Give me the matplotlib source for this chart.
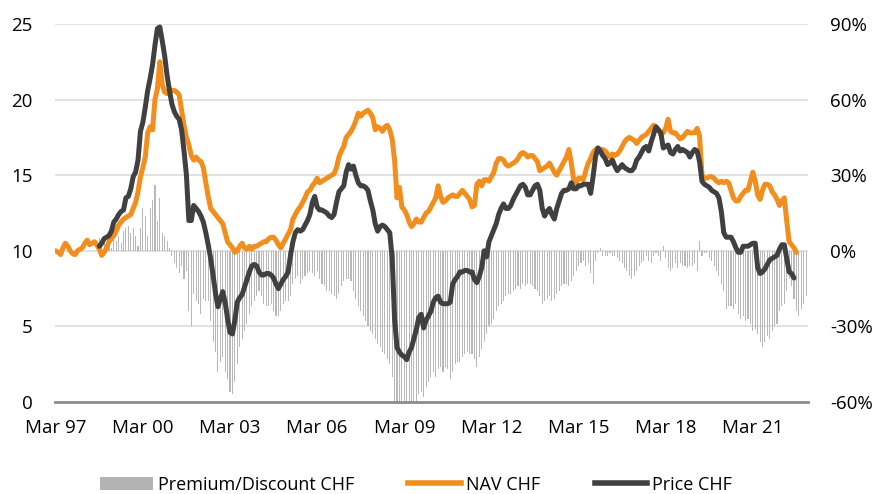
import numpy as np
import matplotlib
matplotlib.use("Agg")
import matplotlib.pyplot as plt
from matplotlib.patches import Patch
from matplotlib.lines import Line2D

plt.rcParams['font.family'] = ['Open Sans', 'DejaVu Sans']

# monthly data, month 0 = Mar 1997
nav_chf = [
    10.0, 9.9, 9.75, 10.2, 10.5, 10.3, 10.0, 9.8, 9.75, 10.0, 10.1, 10.2,
    10.5, 10.7, 10.4, 10.5, 10.6, 10.4, 10.1, 9.7, 9.9, 10.2, 10.6, 10.8,
    11.0, 11.3, 11.7, 11.9, 12.1, 12.2, 12.3, 12.4, 12.8, 13.2, 13.9, 14.9,
    15.5, 16.2, 17.8, 18.2, 18.0, 20.0, 20.7, 22.5, 21.0, 20.5, 20.4, 20.7,
    20.6, 20.6, 20.5, 20.3, 19.3, 18.3, 17.5, 17.0, 16.3, 16.0, 16.2, 16.0,
    15.9, 15.5, 14.5, 13.6, 12.8, 12.6, 12.4, 12.2, 12.0, 11.8, 11.2, 10.6,
    10.4, 10.2, 9.9, 10.0, 10.3, 10.5, 10.2, 10.1, 10.3, 10.1, 10.3, 10.3,
    10.4, 10.5, 10.6, 10.6, 10.8, 10.9, 10.9, 10.7, 10.4, 10.2, 10.5, 10.8,
    11.1, 11.4, 12.1, 12.4, 12.7, 12.9, 13.2, 13.5, 13.9, 14.0, 14.3, 14.5,
    14.8, 14.5, 14.6, 14.7, 14.8, 14.9, 15.0, 15.1, 15.5, 16.2, 16.6, 16.9,
    17.5, 17.7, 17.9, 18.2, 18.6, 19.1, 18.9, 19.1, 19.2, 19.3, 19.1, 18.8,
    18.0, 18.2, 18.1, 17.9, 18.2, 18.3, 18.0, 17.4, 16.0, 13.5, 14.2, 12.9,
    12.7, 12.4, 11.9, 11.6, 11.8, 12.1, 11.9, 11.9, 12.2, 12.5, 12.6, 12.9,
    13.2, 13.5, 14.3, 13.6, 13.2, 13.3, 13.5, 13.6, 13.7, 13.6, 13.6, 13.8,
    14.0, 13.8, 13.6, 13.4, 12.9, 13.0, 14.4, 14.6, 14.3, 14.7, 14.7, 14.6,
    14.9, 15.2, 15.8, 16.1, 16.1, 16.0, 15.7, 15.6, 15.7, 15.8, 15.9, 16.1,
    16.4, 16.5, 16.4, 16.2, 16.3, 16.3, 16.1, 15.9, 15.3, 15.4, 15.5, 15.6,
    15.8, 15.5, 15.2, 15.0, 15.3, 15.6, 15.9, 16.2, 16.7, 15.8, 14.7, 14.5,
    14.8, 14.8, 14.7, 15.3, 15.8, 16.1, 16.5, 16.7, 16.8, 16.7, 16.7, 16.6,
    16.4, 16.2, 16.4, 16.3, 16.4, 16.6, 16.9, 17.2, 17.4, 17.5, 17.4, 17.3,
    17.1, 17.3, 17.5, 17.6, 17.7, 17.9, 18.1, 18.3, 18.2, 18.0, 17.7, 17.8,
    18.1, 18.7, 17.9, 17.8, 17.8, 17.6, 17.4, 17.5, 17.7, 17.9, 17.8, 17.8,
    17.8, 18.1, 17.6, 15.0, 14.8, 14.8, 14.9, 14.9, 14.8, 14.6, 14.5, 14.6,
    14.5, 14.6, 14.5, 14.0, 13.5, 13.3, 13.3, 13.6, 13.8, 14.0, 14.0, 14.6,
    15.2, 14.6, 13.7, 13.4, 14.0, 14.4, 14.4, 14.3, 13.9, 13.7, 13.4, 13.0,
    13.3, 13.5, 12.0, 10.6, 10.4, 10.2, 9.9,
]

# price starts in month 18 (Sep 1998)
price_start = 18
price_chf = [
    10.3, 10.5, 10.8, 10.9, 11.0, 11.3,
    11.9, 12.1, 12.4, 12.6, 12.7, 13.5, 13.6, 14.1, 14.9, 15.2, 16.0, 17.9,
    18.5, 19.5, 20.6, 21.4, 22.3, 23.6, 24.7, 24.8, 23.9, 22.9, 21.6, 20.6,
    19.7, 19.2, 18.9, 18.7, 18.0, 16.6, 15.0, 12.0, 12.0, 13.0, 12.8, 12.6,
    12.3, 11.9, 11.2, 10.4, 9.5, 8.4, 7.2, 6.3, 6.8, 7.3, 6.6, 5.5,
    4.6, 4.5, 5.4, 6.6, 6.9, 7.1, 7.6, 8.1, 8.6, 9.0, 9.1, 9.0,
    8.6, 8.4, 8.4, 8.5, 8.5, 8.4, 8.2, 7.8, 7.5, 7.8, 8.1, 8.3,
    8.6, 9.7, 10.6, 11.2, 11.4, 11.3, 11.4, 11.7, 12.0, 12.4, 13.2, 13.6,
    12.9, 12.7, 12.7, 12.6, 12.5, 12.3, 12.2, 12.4, 13.2, 13.9, 14.1, 14.3,
    15.2, 15.7, 15.4, 15.6, 15.0, 14.5, 14.3, 14.3, 14.2, 14.0, 13.3, 12.7,
    11.8, 11.3, 11.6, 11.7, 11.6, 11.4, 11.2, 9.5, 5.5, 3.6, 3.3, 3.1,
    3.0, 2.8, 3.3, 3.6, 4.2, 4.8, 5.6, 5.8, 4.9, 5.4, 5.7, 6.0,
    6.6, 6.9, 7.0, 6.6, 6.5, 6.5, 6.5, 6.6, 7.8, 8.1, 8.3, 8.6,
    8.6, 8.7, 8.7, 8.6, 8.6, 8.1, 7.9, 8.3, 8.9, 10.0, 9.6, 10.6,
    11.0, 11.4, 11.8, 12.4, 12.8, 13.1, 12.8, 12.8, 13.0, 13.4, 13.7, 14.0,
    14.3, 14.4, 14.2, 13.7, 13.7, 14.0, 14.3, 14.4, 14.0, 12.8, 12.3, 12.6,
    12.8, 12.4, 12.1, 12.8, 13.3, 13.8, 14.0, 14.0, 14.1, 14.5, 14.1, 14.1,
    14.3, 14.3, 14.4, 14.4, 14.4, 13.8, 14.9, 16.2, 16.8, 16.6, 16.3, 16.1,
    15.7, 15.8, 16.0, 15.6, 15.3, 15.5, 15.7, 15.5, 15.4, 15.3, 15.3, 15.5,
    16.0, 16.2, 16.5, 16.8, 16.9, 16.6, 17.2, 17.7, 18.2, 18.0, 17.8, 16.8,
    16.9, 17.0, 16.5, 16.4, 16.7, 16.9, 16.6, 16.7, 16.6, 16.5, 16.2, 16.5,
    16.7, 16.6, 15.9, 14.6, 14.4, 14.3, 14.2, 14.0, 13.9, 13.8, 13.5, 12.6,
    11.2, 10.9, 10.9, 10.9, 10.6, 10.2, 9.9, 9.9, 10.3, 10.3, 10.3, 10.4,
    10.5, 10.5, 8.9, 8.5, 8.6, 8.8, 9.1, 9.4, 9.5, 9.6, 9.7, 10.1,
    10.4, 10.4, 9.5, 8.6, 8.5, 8.2,
]

# premium / discount in %, also from month 18
premium_pct = [
    5, 2, 3, 2, 4, 1,
    5, 4, 6, 3, 8, 9, 10, 7, 9, 6, 2, 9,
    17, 14, 6, 17, 20, 26, 12, 21, 7, 6, 4, 1,
    -2, -5, -7, -9, -6, -11, -8, -24, -30, -17, -20, -21,
    -25, -19, -20, -20, -28, -36, -40, -48, -44, -42, -48, -51,
    -56, -57, -52, -45, -38, -35, -32, -29, -25, -22, -20, -18,
    -16, -18, -21, -22, -22, -21, -24, -26, -26, -24, -21, -20,
    -20, -18, -13, -11, -10, -13, -11, -10, -9, -8, -9, -10,
    -8, -11, -13, -14, -16, -16, -17, -18, -19, -17, -14, -12,
    -11, -11, -12, -16, -19, -22, -24, -26, -28, -30, -32, -33,
    -35, -37, -38, -40, -41, -43, -45, -50, -60, -60, -60, -60,
    -60, -60, -60, -60, -60, -60, -57, -56, -58, -54, -52, -50,
    -48, -50, -47, -46, -48, -46, -47, -51, -48, -45, -44, -44,
    -42, -41, -40, -41, -41, -43, -46, -42, -39, -36, -33, -30,
    -29, -27, -24, -22, -21, -20, -18, -17, -17, -16, -15, -14,
    -15, -13, -14, -13, -13, -14, -15, -16, -18, -21, -20, -19,
    -18, -20, -19, -17, -16, -14, -13, -13, -14, -12, -10, -8,
    -6, -5, -4, -6, -5, -9, -13, -4, -1, 1, -2, -2,
    -2, -1, -2, -2, -3, -4, -5, -7, -8, -10, -11, -10,
    -8, -6, -5, -4, -2, -4, -5, -2, -1, -2, -4, 2,
    -3, -7, -8, -7, -5, -7, -5, -6, -6, -7, -6, -6,
    -5, -8, 4, -2, -1, -1, -3, -4, -6, -8, -10, -13,
    -16, -23, -22, -22, -23, -21, -25, -27, -26, -28, -27, -29,
    -32, -31, -33, -36, -38, -36, -34, -35, -32, -30, -29, -24,
    -22, -21, -16, -11, -14, -19, -24, -26, -23, -21, -18,
]

tick_labels = ["Mar 97", "Mar 00", "Mar 03", "Mar 06", "Mar 09",
               "Mar 12", "Mar 15", "Mar 18", "Mar 21"]

ORANGE = "#f28e1e"
DARK = "#404040"
BARGRAY = "#b8b8b8"

x_nav = np.arange(len(nav_chf))
x_price = np.arange(len(price_chf)) + price_start
x_prem = np.arange(len(premium_pct)) + price_start

fig = plt.figure(figsize=(8.79, 4.94), dpi=100)
ax2 = fig.add_axes([55 / 879, 1 - 402 / 494, 753 / 879, 378 / 494])
ax = ax2.twinx()
ax.set_zorder(ax2.get_zorder() + 1)
ax.patch.set_visible(False)

# bars on the right axis
ax2.bar(x_prem, premium_pct, width=0.45, color=BARGRAY, linewidth=0)
ax2.set_ylim(-60, 90)
ax2.set_yticks(range(-60, 91, 30))
ax2.set_yticklabels([f"{v}%" for v in range(-60, 91, 30)])
for v in range(-30, 91, 30):
    ax2.axhline(v, color="#d9d9d9", lw=1.1, zorder=0)
ax2.axhline(-60, color="#8c8c8c", lw=2.0, zorder=3, clip_on=False)

# lines on the left axis
ax.plot(x_nav, nav_chf, color=ORANGE, lw=3.6, solid_capstyle="round",
        solid_joinstyle="round")
ax.plot(x_price, price_chf, color=DARK, lw=3.6, solid_capstyle="round",
        solid_joinstyle="round")
ax.set_ylim(0, 25)
ax.set_yticks(range(0, 26, 5))

ax2.set_xlim(-0.3, 310.8)
ax2.set_xticks(range(0, 289, 36))
ax2.set_xticklabels(tick_labels)

ax.yaxis.tick_left()
ax2.yaxis.tick_right()

for a in (ax, ax2):
    for s in a.spines.values():
        s.set_visible(False)
    a.tick_params(length=0, labelsize=13.5, colors="#000000")
ax.tick_params(axis="y", pad=16)
ax2.tick_params(axis="y", pad=16)
ax2.tick_params(axis="x", pad=12)

handles = [
    Patch(facecolor="#b3b3b3", edgecolor="none"),
    Line2D([0], [0], color=ORANGE, lw=4),
    Line2D([0], [0], color=DARK, lw=4),
]
fig.legend(handles, ["Premium/Discount CHF", "NAV CHF", "Price CHF"],
           loc="lower left", bbox_to_anchor=(84 / 879, -0.032), ncol=3,
           frameon=False, fontsize=13, handlelength=2.9, handleheight=0.7,
           handletextpad=0.3, columnspacing=3.0)

fig.savefig("out.png", dpi=100)
